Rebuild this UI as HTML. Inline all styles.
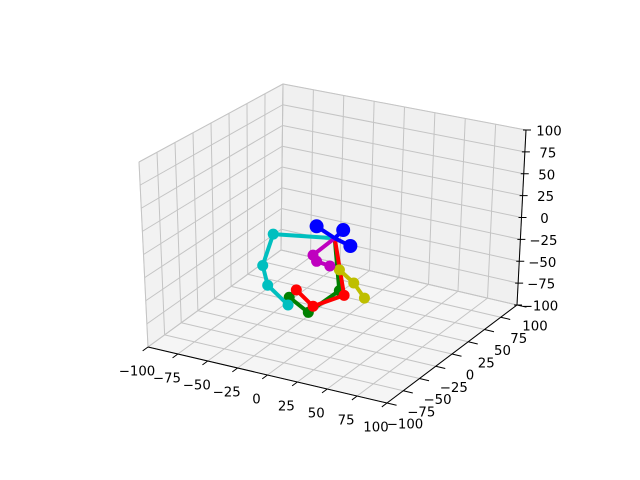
<!DOCTYPE html>
<html><head><meta charset="utf-8"><style>
html,body{margin:0;padding:0;background:#fff;}
svg{display:block;font-family:"DejaVu Sans","Liberation Sans",sans-serif;}
</style></head><body>
<svg id="chart" width="640" height="480" viewBox="0 0 640 480" xmlns="http://www.w3.org/2000/svg">
<rect width="640" height="480" fill="#fff"/>
<g id="panes"></g>
<g id="grid"></g>
<g id="axes"></g>
<g id="series"></g>
</svg>
<script>
const ticks = [-100,-75,-50,-25,0,25,50,75,100];
const tickLabels = ["\u2212100","\u221275","\u221250","\u221225","0","25","50","75","100"];
const hub = [1, 0, -2];
const greenX = [1, 5, -21, -37];
const greenY = [0, 0, 0, 0];
const greenZ = [-2, -59, -91, -79];
const redX = [1, 9, -17, -31];
const redY = [0, 0, 0, 0];
const redZ = [-2, -63, -83, -69];
const cyanX = [1, -50, -59, -55, -38];
const cyanY = [0, 0, 0, 0, 0];
const cyanZ = [-2, -12, -50, -71, -88];
const yellowX = [5, 17, 26];
const yellowY = [0, 0, 0];
const yellowZ = [-36, -47, -61];
const magentaX = [1, -17, -14, -3];
const magentaY = [0, 0, 0, 0];
const magentaZ = [-2, -26, -32, -34];
const blueX = [-14, 8, 14];
const blueY = [0, 0, 0];
const blueZ = [7, 9, -7];

const NS = "http://www.w3.org/2000/svg";
const A=[148,347],B=[387,403],C=[517,305],D=[281,250];
const HA=[-9,-185],HB=[0,-195],HC=[9,-175],HD=[2,-166];
function bil(P,Q,R,S,u,v,i){return P[i]*(1-u)*(1-v)+Q[i]*u*(1-v)+R[i]*u*v+S[i]*(1-u)*v;}
function proj(x,y,z){
  const u=(x+100)/200,v=(y+100)/200,w=(z+100)/200;
  return [bil(A,B,C,D,u,v,0)+w*bil(HA,HB,HC,HD,u,v,0), bil(A,B,C,D,u,v,1)+w*bil(HA,HB,HC,HD,u,v,1)];
}
function mk(tag,attrs,parent){const e=document.createElementNS(NS,tag);for(const k in attrs)e.setAttribute(k,attrs[k]);parent.appendChild(e);return e;}
function pts(arr){return arr.map(p=>p[0].toFixed(1)+","+p[1].toFixed(1)).join(" ");}
const panes=document.getElementById('panes'),grid=document.getElementById('grid'),axes=document.getElementById('axes'),series=document.getElementById('series');

let e;
e=mk('polygon',{points:pts([proj(-100,-100,-100),proj(-100,100,-100),proj(-100,100,100),proj(-100,-100,100)]),fill:'#f2f2f2',stroke:'#e0e0e0'},panes);


e=mk('polygon',{points:pts([proj(-100,100,-100),proj(100,100,-100),proj(100,100,100),proj(-100,100,100)]),fill:'#f0f0f0',stroke:'#e0e0e0'},panes);


e=mk('polygon',{points:pts([proj(-100,-100,-100),proj(100,-100,-100),proj(100,100,-100),proj(-100,100,-100)]),fill:'#f5f5f5',stroke:'#e0e0e0'},panes);



function gl(p,q,name){const l=mk('line',{x1:p[0],y1:p[1],x2:q[0],y2:q[1],stroke:'#c4c4c4','stroke-width':1},grid);

}
ticks.forEach(t=>{
  gl(proj(-100,t,-100),proj(-100,t,100),'grid-left-y');
  gl(proj(-100,-100,t),proj(-100,100,t),'grid-left-z');
  gl(proj(t,100,-100),proj(t,100,100),'grid-back-x');
  gl(proj(-100,100,t),proj(100,100,t),'grid-back-z');
  gl(proj(t,-100,-100),proj(t,100,-100),'grid-floor-x');
  gl(proj(-100,t,-100),proj(100,t,-100),'grid-floor-y');
});

function al(p,q,name){const l=mk('line',{x1:p[0],y1:p[1],x2:q[0],y2:q[1],stroke:'#000','stroke-width':1},axes);

}
function txt(x,y,s,anchor,name){const t=mk('text',{x:x,y:y,'font-size':13.3,'text-anchor':anchor,'dominant-baseline':'central',fill:'#000'},axes);t.textContent=s;

}
al(proj(-100,-100,-100),proj(100,-100,-100),'x-axis-line');
al(proj(100,-100,-100),proj(100,100,-100),'y-axis-line');
al(proj(100,100,-100),proj(100,100,100),'z-axis-line');
ticks.forEach((t,i)=>{
  let p=proj(t,-100,-100),q=proj(t,-108,-100);
  al(p,q,'x-tick');
  txt(p[0]-11,p[1]+25,tickLabels[i],'middle','x-tick-label');
  p=proj(100,t,-100);q=proj(108,t,-100);
  al(p,q,'y-tick');
  txt(p[0]+18,p[1]+22,tickLabels[i],'middle','y-tick-label');
  p=proj(100,100,t);q=[p[0]+5,p[1]];
  al([p[0]-3,p[1]],q,'z-tick');
  txt(p[0]+23,p[1]+2,tickLabels[i],'middle','z-tick-label');
});

function drawSeries(xs,ys,zs,color,r,name,withHub){
  const g=mk('g',{},series);
  
  
  const P=xs.map((x,i)=>proj(x,ys[i],zs[i]));
  mk('polyline',{points:pts(P),fill:'none',stroke:color,'stroke-width':4,'stroke-linejoin':'round'},g);
  P.forEach((p,i)=>{ if(withHub && i===0) return;
    const c=mk('circle',{cx:p[0],cy:p[1],r:r,fill:color},g);
    
    
  });
}
drawSeries(greenX,greenY,greenZ,'#008000',5.5,'green-series',true);
drawSeries(redX,redY,redZ,'#ff0000',5.5,'red-series',true);
drawSeries(cyanX,cyanY,cyanZ,'#00bfbf',5.5,'cyan-series',true);
drawSeries(yellowX,yellowY,yellowZ,'#bfbf00',5.5,'yellow-series',false);
drawSeries(magentaX,magentaY,magentaZ,'#bf00bf',5.5,'magenta-series',true);
(function(){
  const g=mk('g',{},series);
  
  
  const h=proj(hub[0],hub[1],hub[2]);
  blueX.forEach((x,i)=>{const p=proj(x,blueY[i],blueZ[i]);
    mk('line',{x1:h[0],y1:h[1],x2:p[0],y2:p[1],stroke:'#0000ff','stroke-width':4},g);});
  blueX.forEach((x,i)=>{const p=proj(x,blueY[i],blueZ[i]);
    const c=mk('circle',{cx:p[0],cy:p[1],r:7,fill:'#0000ff'},g);
    
    });
})();
</script>
</body></html>
